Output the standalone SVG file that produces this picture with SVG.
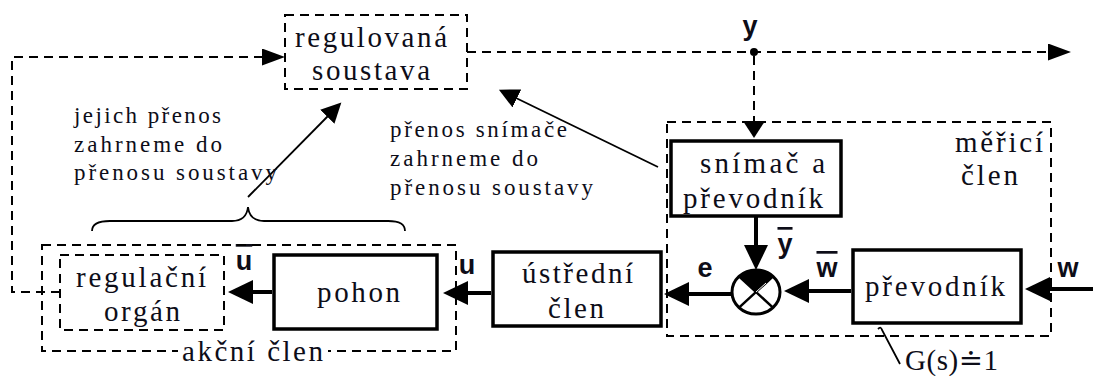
<svg xmlns="http://www.w3.org/2000/svg" width="1093" height="376" viewBox="0 0 1093 376">
<defs>
<style>
.t{font-family:"Liberation Serif","DejaVu Serif",serif;font-size:29px;fill:#0d0d18}
.a{font-family:"Liberation Serif","DejaVu Serif",serif;font-size:23px;fill:#0d0d18}
.l{font-family:"Liberation Sans","DejaVu Sans",sans-serif;font-size:27px;font-weight:bold;fill:#0d0d18;text-anchor:middle}
.ov{text-decoration:overline}
.db{fill:none;stroke:#000;stroke-width:2;stroke-dasharray:9 6}
.sb{fill:#fff;stroke:#000;stroke-width:3.5}
.dl{fill:none;stroke:#000;stroke-width:2;stroke-dasharray:9 6}
.tl{fill:none;stroke:#000;stroke-width:4}
.nl{fill:none;stroke:#000;stroke-width:1.8}
</style>
<marker id="ah" markerUnits="userSpaceOnUse" markerWidth="24" markerHeight="18" refX="1" refY="8.5" orient="auto"><path d="M0,0 L23,8.5 L0,17 z" fill="#000"/></marker>
<marker id="ahv" markerUnits="userSpaceOnUse" markerWidth="18" markerHeight="24" refX="1" refY="11" orient="auto"><path d="M0,0 L17,11 L0,22 z" fill="#000"/></marker>
<marker id="ahb" markerUnits="userSpaceOnUse" markerWidth="26" markerHeight="25" refX="1" refY="12" orient="auto"><path d="M0,0 L25,12 L0,24 z" fill="#000"/></marker>
<marker id="aht" markerUnits="userSpaceOnUse" markerWidth="21" markerHeight="21" refX="1" refY="10" orient="auto"><path d="M0,0 L20,10 L0,20 z" fill="#000"/></marker>
</defs>
<rect width="1093" height="376" fill="#fff"/>

<g id="connectors">
<path class="dl" d="M60,292 H12 V57 H263" marker-end="url(#ah)"/>
<path class="dl" d="M467,52 H1049" marker-end="url(#ah)"/>
<circle cx="754" cy="52" r="4" fill="#000"/>
<path class="dl" d="M754,56 V122" marker-end="url(#ahv)"/>
<path class="tl" d="M756,217 V246" marker-end="url(#ahb)"/>
<path class="tl" d="M851,291 H808" marker-end="url(#ahb)"/>
<path class="tl" d="M1093,289 H1049" marker-end="url(#ahb)"/>
<path class="tl" d="M732,294 H688" marker-end="url(#ahb)"/>
<path class="tl" d="M491,293 H467" marker-end="url(#ahb)"/>
<path class="tl" d="M272,292 H252" marker-end="url(#ahb)"/>
<path class="nl" d="M248,197 L328,116" marker-end="url(#aht)"/>
<path class="nl" d="M658,167 L516,98" marker-end="url(#aht)"/>
<path class="nl" d="M900,364 L882,330 Q881,326 878,329"/>
<path class="nl" d="M92,231 C92,224 98,221 110,221 L232,221 C242,221 247,216 248,207 C249,216 254,221 264,221 L388,221 C400,221 405,224 405,231"/>
</g>

<g id="regulovana-soustava">
<rect class="db" x="285" y="15" width="182" height="74"/>
<text class="t" x="295" y="47" textLength="152" lengthAdjust="spacing">regulovaná</text>
<text class="t" x="312" y="80" textLength="118" lengthAdjust="spacing">soustava</text>
</g>

<g id="note-left">
<text class="a" x="74" y="123" textLength="147" lengthAdjust="spacing">jejich přenos</text>
<text class="a" x="74" y="152" textLength="148" lengthAdjust="spacing">zahrneme do</text>
<text class="a" x="74" y="180" textLength="203" lengthAdjust="spacing">přenosu soustavy</text>
</g>

<g id="note-right">
<text class="a" x="390" y="137" textLength="177" lengthAdjust="spacing">přenos snímače</text>
<text class="a" x="390" y="166" textLength="148" lengthAdjust="spacing">zahrneme do</text>
<text class="a" x="390" y="195" textLength="203" lengthAdjust="spacing">přenosu soustavy</text>
</g>

<g id="label-y">
<text class="l" x="750" y="35">y</text>
</g>

<g id="meric-clen">
<rect class="db" x="667" y="122" width="384" height="214"/>
<text class="t" x="955" y="152" textLength="88" lengthAdjust="spacing">měřicí</text>
<text class="t" x="961" y="185" textLength="57" lengthAdjust="spacing">člen</text>
</g>

<g id="snimac">
<rect class="sb" x="671" y="141" width="170" height="75"/>
<text class="t" x="700" y="173" textLength="125" lengthAdjust="spacing">snímač a</text>
<text class="t" x="683" y="208" textLength="140" lengthAdjust="spacing">převodník</text>
</g>

<g id="komparator">
<path d="M756,292 L739,276.4 A24,22 0 0 1 773,276.4 Z" fill="#000"/>
<ellipse cx="756" cy="292" rx="24" ry="22" fill="none" stroke="#000" stroke-width="3"/>
<path d="M739,276.4 L773,307.6 M773,276.4 L739,307.6" stroke="#000" stroke-width="2.5"/>
<path d="M756,292 L766,283" stroke="#fff" stroke-width="1"/>
</g>

<g id="label-ybar"><text class="l ov" x="785" y="253">y</text></g>
<g id="label-wbar"><text class="l ov" x="827" y="277">w</text></g>
<g id="label-w"><text class="l" x="1068" y="277">w</text></g>
<g id="label-e"><text class="l" x="705" y="277">e</text></g>
<g id="label-u"><text class="l" x="467" y="274">u</text></g>
<g id="label-ubar"><text class="l ov" x="244" y="270">u</text></g>

<g id="prevodnik">
<rect class="sb" x="853" y="250" width="168" height="73"/>
<text class="t" x="865" y="296" textLength="140" lengthAdjust="spacing">převodník</text>
</g>

<g id="g-label">
<text class="t" x="905" y="370" textLength="93" lengthAdjust="spacing">G(s)≐1</text>
</g>

<g id="ustredni">
<rect class="sb" x="493" y="252" width="168" height="74"/>
<text class="t" x="522" y="283" textLength="111" lengthAdjust="spacing">ústřední</text>
<text class="t" x="548" y="318" textLength="56" lengthAdjust="spacing">člen</text>
</g>

<g id="akcni-clen">
<rect class="db" x="42" y="245" width="414" height="106"/>
<rect x="178" y="342" width="150" height="20" fill="#fff"/>
<text class="t" x="182" y="361" textLength="141" lengthAdjust="spacing">akční člen</text>
</g>

<g id="pohon">
<rect class="sb" x="274" y="255" width="163" height="74"/>
<text class="t" x="317" y="302" textLength="83" lengthAdjust="spacing">pohon</text>
</g>

<g id="regulacni-organ">
<rect class="db" x="60" y="255" width="164" height="75"/>
<text class="t" x="76" y="287" textLength="130" lengthAdjust="spacing">regulační</text>
<text class="t" x="104" y="321" textLength="76" lengthAdjust="spacing">orgán</text>
</g>
</svg>
